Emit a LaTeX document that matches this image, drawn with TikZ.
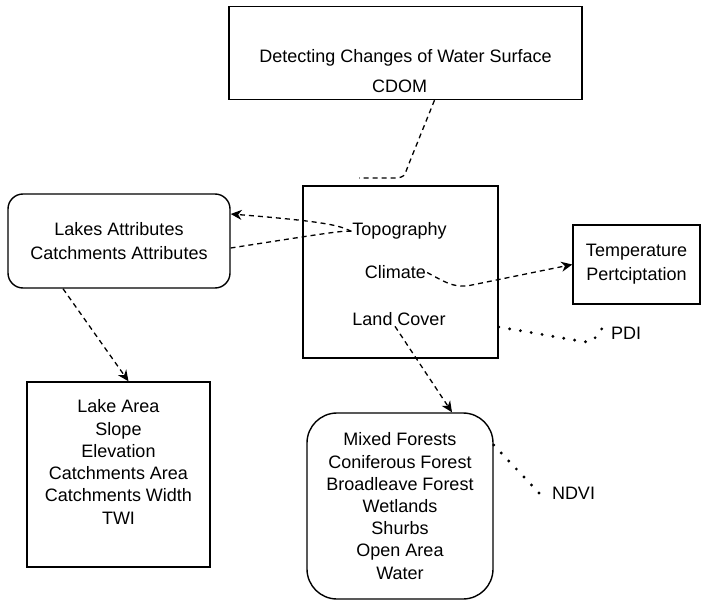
\documentclass[tikz,border=0pt]{standalone}
\usepackage{fontspec}
\setmainfont{Liberation Sans}
\usetikzlibrary{arrows.meta}
\begin{document}
\begin{tikzpicture}[x=1pt,y=-1pt,
  box/.style={draw,line width=1.4pt,inner sep=0pt,align=center,
    font=\fontsize{18}{24}\selectfont},
  txt/.style={font=\fontsize{18}{22}\selectfont,inner sep=1pt,anchor=base},
  mtxt/.style={font=\fontsize{18}{22.3}\selectfont,inner sep=0pt,align=center},
  dashline/.style={dash pattern=on 5pt off 4pt,line width=1.3pt},
  dotline/.style={line width=3.2pt,line cap=round,dash pattern=on 0pt off 11pt},
  arr/.style={-{Stealth[length=11pt,width=10pt,inset=3.5pt]}}
]
\useasboundingbox (0,0) rectangle (703,601);

% boxes
\node[box,minimum width=353pt,minimum height=93pt] (top) at (405.5,53) {};
\node[box,minimum width=195pt,minimum height=172pt] (cbox) at (400.5,272) {};
\node[box,rounded corners=15pt,minimum width=222pt,minimum height=94pt] (lakes) at (119,241)
  {Lakes Attributes\\Catchments Attributes};
\node[box,minimum width=127pt,minimum height=79pt] (temp) at (636.5,264.5)
  {Temperature\\Pertciptation};
\node[box,minimum width=183pt,minimum height=185pt] (lakearea) at (118.5,474.5) {};
\node[mtxt] (lakeareatxt) at (118.5,462)
  {Lake Area\\Slope\\Elevation\\Catchments Area\\Catchments Width\\TWI};
\node[box,font=\fontsize{18}{22.2}\selectfont,rounded corners=30pt,minimum width=186pt,minimum height=186pt] (lcbox) at (400,506)
  {Mixed Forests\\Coniferous Forest\\Broadleave Forest\\Wetlands\\Shurbs\\Open Area\\Water};

% texts
\node[txt] (detect) at (405.5,63) {Detecting Changes of Water Surface};
\node[txt] (cdom) at (399.5,93) {CDOM};
\node[txt] (topo) at (399.5,236) {Topography};
\node[txt] (climate) at (395.5,279) {Climate};
\node[txt] (landcover) at (399,325) {Land Cover};
\node[txt] (pdi) at (626,339) {PDI};
\node[txt] (ndvi) at (573.5,499) {NDVI};

\coordinate (cdomend) at (359,178);
\coordinate (pdiend) at (603,327);

% connectors
\draw[dashline] ([xshift=29pt]top.south) -- (408,166) .. controls (404,177) .. (396,178) -- (cdomend);
\draw[dashline,arr] (topo.west) .. controls (340,226) and (332,222) .. ([yshift=27pt]lakes.east);
\draw[dashline] (topo.west) .. controls (340,231) .. ([yshift=-7pt]lakes.east);
\draw[dashline,arr] (climate.east) .. controls (445,282) and (452,287) .. (467,286) -- (temp.west);
\draw[dotline] ([yshift=-55pt]cbox.east) -- (580,341) .. controls (592,343) .. (pdiend);
\draw[dashline,arr] ([xshift=-4pt]landcover.south) -- ([xshift=52pt]lcbox.north);
\draw[dashline,arr] ([xshift=-56pt]lakes.south) -- ([xshift=10pt]lakearea.north);
\draw[dotline] ([yshift=61pt]lcbox.east) -- ([xshift=-5pt]ndvi.south west);
\end{tikzpicture}
\end{document}
